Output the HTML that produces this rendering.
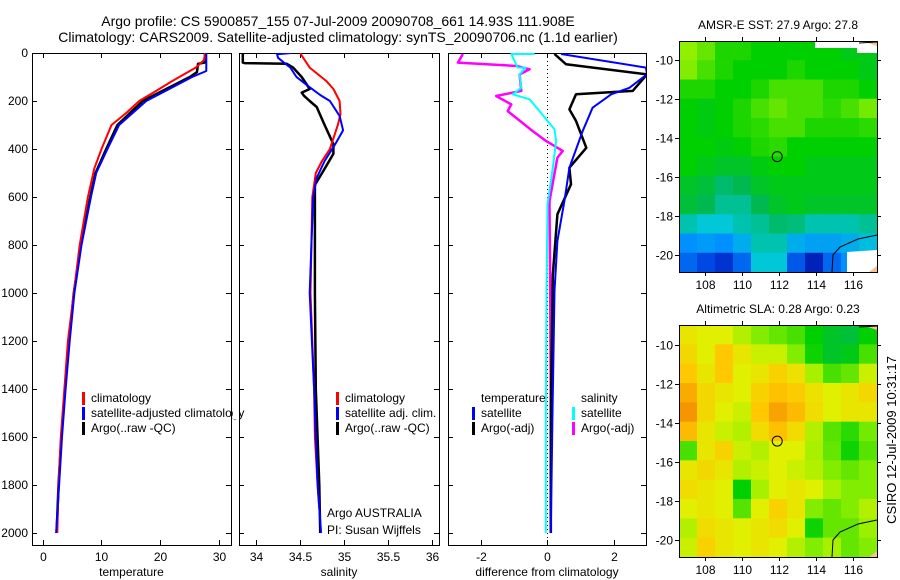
<!DOCTYPE html>
<html><head><meta charset="utf-8">
<style>
html,body{margin:0;padding:0;background:#fff;}
svg{display:block;font-family:"Liberation Sans",sans-serif;}
text{fill:#000;}
</style></head>
<body>
<svg id="fig" width="900" height="580" viewBox="0 0 900 580" xmlns="http://www.w3.org/2000/svg">
<text x="338" y="26" font-size="14" text-anchor="middle">Argo profile: CS 5900857_155 07-Jul-2009 20090708_661 14.93S 111.908E</text>
<text x="338" y="42" font-size="14" text-anchor="middle">Climatology: CARS2009. Satellite-adjusted climatology: synTS_20090706.nc (1.1d earlier)</text>
<g id="panels"></g>
<text transform="translate(896,440) rotate(-90)" font-size="13" text-anchor="middle">CSIRO 12-Jul-2009 10:31:17</text>
</svg>
<script>
// ---------- profile data ----------
const tempClimDepth=[0,30,61,117,158,200,250,300,400,480,600,800,1000,1200,1400,1600,1800,2000];
const tempClimVal=[27.6,27.4,26.0,22.0,19.3,16.4,14.2,11.7,10.0,8.8,7.7,6.3,5.3,4.3,3.7,3.1,2.7,2.5];
const tempSatDepth=[0,75,100,150,200,300,400,500,600,800,1000,1200,1400,1600,1800,2000];
const tempSatVal=[27.8,27.8,25.4,21.5,17.6,13.0,11.0,9.1,8.2,6.6,5.4,4.6,3.9,3.3,2.8,2.3];
const tempArgoDepth=[0,40,45,80,100,150,200,300,400,500,600,800,1000,1200,1400,1600,1800,1990];
const tempArgoVal=[27.6,27.5,26.4,26.2,25.0,21.0,17.0,12.7,10.8,9.0,8.1,6.5,5.3,4.5,3.8,3.2,2.7,2.4];

const salClimDepth=[0,61,117,150,200,255,300,400,450,500,600,800,1000,1400,1600,1800,1900];
const salClimVal=[34.5,34.61,34.8,34.88,34.95,34.96,34.93,34.84,34.75,34.68,34.64,34.63,34.62,34.66,34.67,34.7,34.72];
const salSatDepth=[0,5,20,61,100,140,175,200,262,322,380,450,520,600,800,1000,1400,1600,1800,2000];
const salSatVal=[34.4,34.24,34.25,34.39,34.46,34.6,34.73,34.84,34.95,34.99,34.9,34.78,34.69,34.65,34.63,34.61,34.66,34.68,34.7,34.74];
const salArgoDepth=[0,40,42,45,60,100,150,165,180,200,225,300,380,420,470,550,700,1000,1400,1800,2000];
const salArgoVal=[33.85,33.85,33.87,34.35,34.42,34.52,34.61,34.52,34.55,34.61,34.69,34.78,34.88,34.88,34.8,34.67,34.67,34.67,34.68,34.72,34.73];

const dSalSatDepth=[4,4,61,61,89,145,172,193,242,318,367,478,630,1000,1500,2000];
const dSalSatVal=[-0.39,-1.09,-0.9,-0.66,-0.84,-0.79,-1.05,-0.54,-0.24,0.21,0.26,0.16,0.0,-0.03,-0.05,-0.05];
const dSalArgoDepth=[4,40,54,68,89,158,179,214,242,325,367,408,436,617,1000,1500,2000];
const dSalArgoVal=[-2.55,-2.7,-0.93,-0.54,-0.84,-0.79,-1.55,-1.09,-1.2,-0.45,-0.04,0.46,0.3,0.06,0.08,0.1,0.1];
const dTempSatDepth=[4,61,89,145,172,228,325,478,617,783,992,1500,2000];
const dTempSatVal=[0.41,2.97,3.0,2.47,1.92,1.36,1.06,0.66,0.51,0.3,0.21,0.15,0.1];
const dTempArgoDepth=[4,47,89,158,172,235,283,395,478,547,672,925,1500,2000];
const dTempArgoVal=[0.21,0.56,3.0,2.57,0.86,0.66,0.86,1.17,0.66,0.71,0.3,0.16,0.1,0.1];

const depthTicks=[0,200,400,600,800,1000,1200,1400,1600,1800,2000];
const tempTicks=[0,10,20,30];
const salTicks=[34,34.5,35,35.5,36];
const diffTicks=[-2,0,2];

// ---------- map data (colour index 0..1) ----------
const sstLon=[106.6,117.3], sstLat=[-9.0,-20.85];
const sstGrid=[
[.65,.62,.57,.57,.55,.55,.55,.55,.55,.52,.52],
[.64,.60,.57,.55,.55,.55,.57,.55,.55,.55,.52],
[.57,.57,.55,.55,.57,.60,.60,.60,.57,.57,.55],
[.55,.53,.55,.57,.60,.62,.60,.60,.58,.60,.63],
[.55,.53,.55,.57,.58,.60,.60,.57,.57,.57,.58],
[.55,.55,.53,.55,.57,.58,.55,.55,.55,.55,.55],
[.55,.52,.50,.50,.53,.55,.55,.52,.52,.52,.52],
[.50,.48,.43,.45,.50,.52,.52,.52,.52,.52,.52],
[.48,.45,.40,.40,.45,.50,.52,.50,.50,.50,.50],
[.38,.35,.35,.38,.40,.43,.42,.38,.38,.38,.40],
[.25,.27,.25,.30,.38,.38,.30,.28,.28,.30,.33],
[.20,.16,.12,.20,.35,.35,.18,.08,.20,.25,.30]];
const slaGrid=[
[.74,.72,.72,.68,.64,.62,.60,.55,.50,.48,.55],
[.77,.72,.80,.74,.70,.70,.64,.56,.50,.52,.60],
[.80,.74,.80,.72,.74,.78,.75,.67,.60,.62,.70],
[.84,.77,.74,.72,.78,.81,.79,.75,.72,.74,.77],
[.87,.77,.72,.70,.80,.85,.82,.76,.72,.74,.74],
[.82,.74,.70,.68,.76,.81,.76,.68,.61,.58,.63],
[.60,.74,.78,.70,.68,.72,.72,.67,.62,.56,.61],
[.74,.77,.74,.68,.70,.72,.70,.68,.64,.62,.64],
[.76,.74,.72,.55,.67,.72,.74,.72,.67,.64,.64],
[.72,.74,.72,.61,.72,.78,.74,.64,.62,.64,.68],
[.68,.76,.74,.72,.74,.76,.72,.56,.62,.62,.66],
[.70,.78,.74,.72,.74,.72,.68,.64,.67,.62,.64]];
const lonTicks=[108,110,112,114,116];
const latTicks=[-10,-12,-14,-16,-18,-20];
const floatLon=111.908, floatLat=-14.93;

const NS="http://www.w3.org/2000/svg";
const root=document.getElementById('panels');
function mk(tag,attrs,parent){const e=document.createElementNS(NS,tag);for(const k in attrs)e.setAttribute(k,attrs[k]);(parent||root).appendChild(e);return e;}

const Y0=53,Y1=545; // depth 0..2050
function yD(d){return Y0+d*(Y1-Y0)/2050;}

function panel(name,x0,x1,lo,hi,ticks,fmt,label){
  const g=mk('g',{});
  
  
  const sx=v=>x0+(v-lo)*(x1-x0)/(hi-lo);
  const clipId='clip-'+name;
  const cp=mk('clipPath',{id:clipId},g);mk('rect',{x:x0,y:Y0,width:x1-x0,height:Y1-Y0},cp);
  const frame=mk('rect',{x:x0+.5,y:Y0+.5,width:x1-x0,height:Y1-Y0,fill:'none',stroke:'#000','stroke-width':1},g);
  
  
  ticks.forEach(t=>{const x=Math.round(sx(t))+.5;
    mk('line',{x1:x,x2:x,y1:Y1,y2:Y1-5,stroke:'#000'},g);
    mk('line',{x1:x,x2:x,y1:Y0,y2:Y0+5,stroke:'#000'},g);
    const tl=mk('text',{x:x,y:Y1+16,'font-size':12,'text-anchor':'middle'},g);tl.textContent=fmt(t);
    
    
  });
  depthTicks.forEach(d=>{const y=Math.round(yD(d))+.5;
    mk('line',{x1:x0,x2:x0+5,y1:y,y2:y,stroke:'#000'},g);
    mk('line',{x1:x1,x2:x1-5,y1:y,y2:y,stroke:'#000'},g);
  });
  const al=mk('text',{x:(x0+x1)/2,y:576,'font-size':12,'text-anchor':'middle'},g);al.textContent=label;
  
  
  const inner=mk('g',{'clip-path':'url(#'+clipId+')'},g);
  return {g,inner,sx};
}
function series(p,depths,vals,color,w,name){
  const pts=depths.map((d,i)=>p.sx(vals[i]).toFixed(1)+','+yD(d).toFixed(1)).join(' ');
  const l=mk('polyline',{points:pts,fill:'none',stroke:color,'stroke-width':w,'stroke-linejoin':'round'},p.inner);
  
  
}
function legend(g,x,y,color,txt,name){
  if(color){mk('rect',{x:x,y:y-10,width:3,height:13,fill:color},g);}
  const t=mk('text',{x:x+9,y:y,'font-size':12},g);t.textContent=txt;
  
  
}

depthTicks.forEach(d=>{const t=mk('text',{x:28,y:yD(d)+4,'font-size':12,'text-anchor':'end'});t.textContent=d;
  
  });

const p1=panel('temperature-panel',32,231,-1.8,32,tempTicks,v=>v,'temperature');
series(p1,tempArgoDepth,tempArgoVal,'#000',2.5,'temp-argo-line');
series(p1,tempClimDepth,tempClimVal,'#f00',2,'temp-climatology-line');
series(p1,tempSatDepth,tempSatVal,'#00f',2,'temp-satellite-line');
legend(root,82,402,'#f00','climatology','legend-climatology');
legend(root,82,417,'#00f','satellite-adjusted climatology','legend-satellite-adjusted');
legend(root,82,432,'#000','Argo(..raw -QC)','legend-argo');

const p2=panel('salinity-panel',239,439,33.807,36.08,salTicks,v=>v,'salinity');
mk('rect',{x:233,y:405,width:6,height:14,fill:'#fff'});
series(p2,salArgoDepth,salArgoVal,'#000',2.5,'sal-argo-line');
series(p2,salClimDepth,salClimVal,'#f00',2,'sal-climatology-line');
series(p2,salSatDepth,salSatVal,'#00f',2,'sal-satellite-line');
legend(root,336,402,'#f00','climatology','legend2-climatology');
legend(root,336,417,'#00f','satellite adj. clim.','legend2-satellite');
legend(root,336,432,'#000','Argo(..raw -QC)','legend2-argo');
legend(root,318,517,null,'Argo AUSTRALIA','argo-australia-label');
legend(root,318,534,null,'PI: Susan Wijffels','pi-label');

const p3=panel('difference-panel',448,646,-3,2.97,diffTicks,v=>v,'difference from climatology');
const zx=Math.round(p3.sx(0))+.5;
const zl=mk('line',{x1:zx,x2:zx,y1:Y0,y2:Y1,stroke:'#000','stroke-dasharray':'1,3'},p3.inner);


series(p3,dSalArgoDepth,dSalArgoVal,'#f0f',2.5,'diff-sal-argo-line');
series(p3,dSalSatDepth,dSalSatVal,'#0ff',2,'diff-sal-satellite-line');
series(p3,dTempArgoDepth,dTempArgoVal,'#000',2.5,'diff-temp-argo-line');
series(p3,dTempSatDepth,dTempSatVal,'#00f',2,'diff-temp-satellite-line');
legend(root,472,402,null,'temperature','legend3-temperature');
legend(root,472,417,'#00f','satellite','legend3-temp-satellite');
legend(root,472,432,'#000','Argo(-adj)','legend3-temp-argo');
legend(root,572,402,null,'salinity','legend3-salinity');
legend(root,572,417,'#0ff','satellite','legend3-sal-satellite');
legend(root,572,432,'#f0f','Argo(-adj)','legend3-sal-argo');

// ---------- maps ----------
const stops=[[0,[0,0,140]],[.15,[0,64,224]],[.25,[0,144,255]],[.35,[0,200,216]],[.45,[0,184,80]],[.55,[0,208,0]],[.65,[144,240,0]],[.72,[224,240,0]],[.8,[255,200,0]],[.9,[240,128,0]],[1,[192,0,0]]];
function cmap(v){for(let i=1;i<stops.length;i++){if(v<=stops[i][0]){const a=stops[i-1],b=stops[i],f=(v-a[0])/(b[0]-a[0]);return 'rgb('+a[1].map((c,k)=>Math.round(c+(b[1][k]-c)*f)).join(',')+')';}}return 'rgb(192,0,0)';}

function map(name,x0,x1,y0,y1,grid,title,whiteTR){
  const g=mk('g',{});
  
  
  const sx=lon=>x0+(lon-sstLon[0])*(x1-x0)/(sstLon[1]-sstLon[0]);
  const sy=lat=>y0+(lat-sstLat[0])*(y1-y0)/(sstLat[1]-sstLat[0]);
  const rows=grid.length,cols=grid[0].length;
  const cw=(x1-x0)/cols,ch=(y1-y0)/rows;
  grid.forEach((row,r)=>row.forEach((v,c)=>{
    const cell=mk('rect',{x:(x0+c*cw).toFixed(2),y:(y0+r*ch).toFixed(2),width:(cw+.6).toFixed(2),height:(ch+.6).toFixed(2),fill:cmap(v)},g);
    
    
  }));
  if(whiteTR){mk('polygon',{points:`${x0+136},${y0} ${x1},${y0} ${x1},${y0+12} ${x0+178},${y0+12} ${x0+178},${y0+7} ${x0+136},${y0+7}`,fill:'#fff'},g);
    mk('polygon',{points:`${x0+168},${y1} ${x0+168},${y1-20} ${x1},${y1-22} ${x1},${y1}`,fill:'#fff'},g);}
  mk('polygon',{points:`${x1-8},${y1} ${x1},${y1-6} ${x1},${y1}`,fill:'#f8c090'},g);
  mk('polygon',{points:`${x1-15},${y0} ${x1},${y0-0} ${x1},${y0+5}`,fill:'#f8c090'},g);
  mk('polyline',{points:`${x1},${y1-37} ${x1-19},${y1-33} ${x1-37},${y1-25} ${x1-44},${y1-17} ${x1-45},${y1}`,fill:'none',stroke:'#000','stroke-width':1},g);
  mk('polyline',{points:`${x1-18},${y0+2} ${x1},${y0+1}`,fill:'none',stroke:'#000','stroke-width':1},g);
  mk('rect',{x:x0+.5,y:y0+.5,width:x1-x0,height:y1-y0,fill:'none',stroke:'#000'},g);
  lonTicks.forEach(l=>{const x=Math.round(sx(l))+.5;
    mk('line',{x1:x,x2:x,y1:y0,y2:y0-4,stroke:'#000'},g);mk('line',{x1:x,x2:x,y1:y1,y2:y1+4,stroke:'#000'},g);
    const t=mk('text',{x:x,y:y1+17,'font-size':12,'text-anchor':'middle'},g);t.textContent=l;
    
    });
  latTicks.forEach(l=>{const y=Math.round(sy(l))+.5;
    mk('line',{x1:x0,x2:x0-4,y1:y,y2:y,stroke:'#000'},g);mk('line',{x1:x1,x2:x1+4,y1:y,y2:y,stroke:'#000'},g);
    const t=mk('text',{x:x0-6,y:y+4,'font-size':12,'text-anchor':'end'},g);t.textContent=l;
    
    });
  const c=mk('circle',{cx:sx(floatLon),cy:sy(floatLat),r:5,fill:'none',stroke:'#000','stroke-width':1},g);
  
  
  const tt=mk('text',{x:(x0+x1)/2,y:y0-12,'font-size':12,'text-anchor':'middle'},g);tt.textContent=title;
  
  
}
map('sst-map',679,877,41,272,sstGrid,'AMSR-E SST: 27.9 Argo: 27.8',true);
map('sla-map',679,877,325,557,slaGrid,'Altimetric SLA: 0.28 Argo: 0.23',false);
</script>
</body></html>
